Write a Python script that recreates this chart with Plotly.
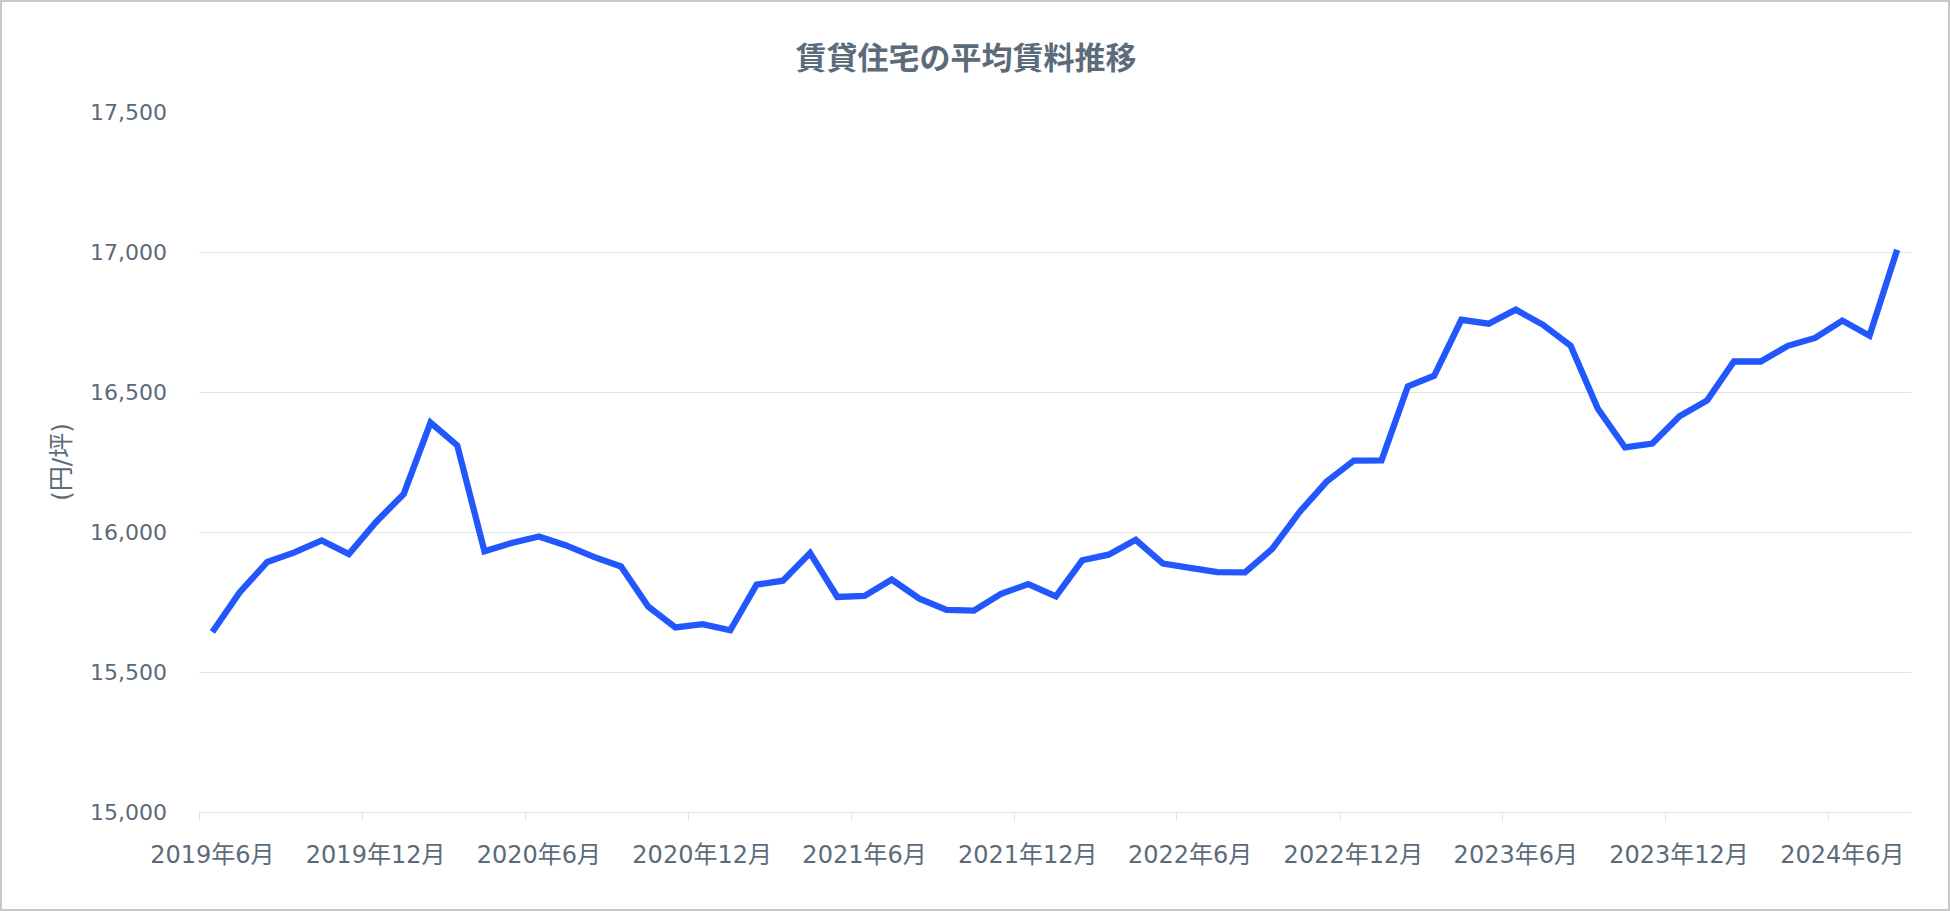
import plotly.graph_objects as go
import pandas as pd

# ---- data ----
months = pd.date_range("2019-06-01", "2024-08-01", freq="MS").strftime("%Y-%m-%d").tolist()
rent = [
    15643, 15784, 15893, 15927, 15970, 15921, 16036, 16136, 16391, 16309,
    15931, 15961, 15984, 15952, 15911, 15877, 15734, 15659, 15671, 15649,
    15812, 15826, 15925, 15768, 15772, 15830, 15762, 15722, 15719, 15779,
    15814, 15770, 15899, 15919, 15972, 15887, 15872, 15857, 15856, 15940,
    16071, 16180, 16255, 16256, 16520, 16558, 16758, 16744, 16794, 16740,
    16665, 16440, 16302, 16316, 16413, 16470, 16609, 16609, 16665, 16693,
    16755, 16701, 17008,
]
# label positions (middle of the labelled month) and tick marks (start of month)
label_vals = ["2019-06-16", "2019-12-16", "2020-06-16", "2020-12-16", "2021-06-16",
              "2021-12-16", "2022-06-16", "2022-12-16", "2023-06-16", "2023-12-16",
              "2024-06-16"]
tick_text = ["2019年6月", "2019年12月", "2020年6月", "2020年12月", "2021年6月",
             "2021年12月", "2022年6月", "2022年12月", "2023年6月", "2023年12月",
             "2024年6月"]
tick_marks = ["2019-06-01", "2019-12-01", "2020-06-01", "2020-12-01", "2021-06-01",
              "2021-12-01", "2022-06-01", "2022-12-01", "2023-06-01", "2023-12-01",
              "2024-06-01"]
y_ticks = [15000, 15500, 16000, 16500, 17000, 17500]

title_text = "賃貸住宅の平均賃料推移"
y_title = "(円/坪)"

FONT = "'DejaVu Sans', Verdana, 'Noto Sans CJK JP', sans-serif"
TXT = "#5b6b7a"
GRID = "#dfe3e6"

W, H = 1950, 911
ML, MR, MT, MB = 199, 39, 112, 99
PW, PH = W - ML - MR, H - MT - MB

fig = go.Figure()
fig.add_trace(go.Scatter(
    x=months, y=rent, mode="lines",
    xperiod="M1", xperiodalignment="middle",
    line=dict(color="#2157fd", width=6.3),
    hoverinfo="x+y",
    showlegend=False,
))

fig.update_layout(
    width=W, height=H,
    margin=dict(l=ML, r=MR, t=MT, b=MB, pad=0),
    paper_bgcolor="white", plot_bgcolor="white",
    font=dict(family=FONT, color=TXT, size=20),
    title=dict(text="<b>" + title_text + "</b>", x=966 / W, xanchor="center",
               y=1 - 58 / H, yanchor="middle", font=dict(size=31, color=TXT)),
    xaxis=dict(
        type="date",
        range=["2019-06-01", "2024-09-01"],
        tickmode="array", tickvals=label_vals, ticktext=tick_text,
        showgrid=False, showline=True, linecolor=GRID, linewidth=1,
        ticks="", ticklabelstandoff=21,
        tickfont=dict(size=24, color=TXT),
        zeroline=False,
        minor=dict(tickmode="array", tickvals=tick_marks, ticks="outside",
                   ticklen=8, tickcolor=GRID, tickwidth=1, showgrid=False),
    ),
    yaxis=dict(
        range=[15000, 17500],
        tickmode="array", tickvals=y_ticks,
        tickformat=",d",
        showgrid=True, gridcolor=GRID, gridwidth=1,
        showline=False, zeroline=False,
        ticks="", ticklabelstandoff=31,
        tickfont=dict(size=22, color=TXT),
        title=dict(text=y_title, standoff=12, font=dict(size=25, color=TXT)),
    ),
)

# outer border around the whole canvas
fig.add_shape(
    type="rect", xref="paper", yref="paper",
    x0=(-ML + 1) / PW, x1=1 + (MR - 1) / PW,
    y0=(-MB + 1) / PH, y1=1 + (MT - 1) / PH,
    line=dict(color="#c4c9cc", width=2), fillcolor="rgba(0,0,0,0)",
    layer="below",
)

fig.write_html("out.html", config={"displayModeBar": False},
               post_script="document.body.style.margin='0';")
